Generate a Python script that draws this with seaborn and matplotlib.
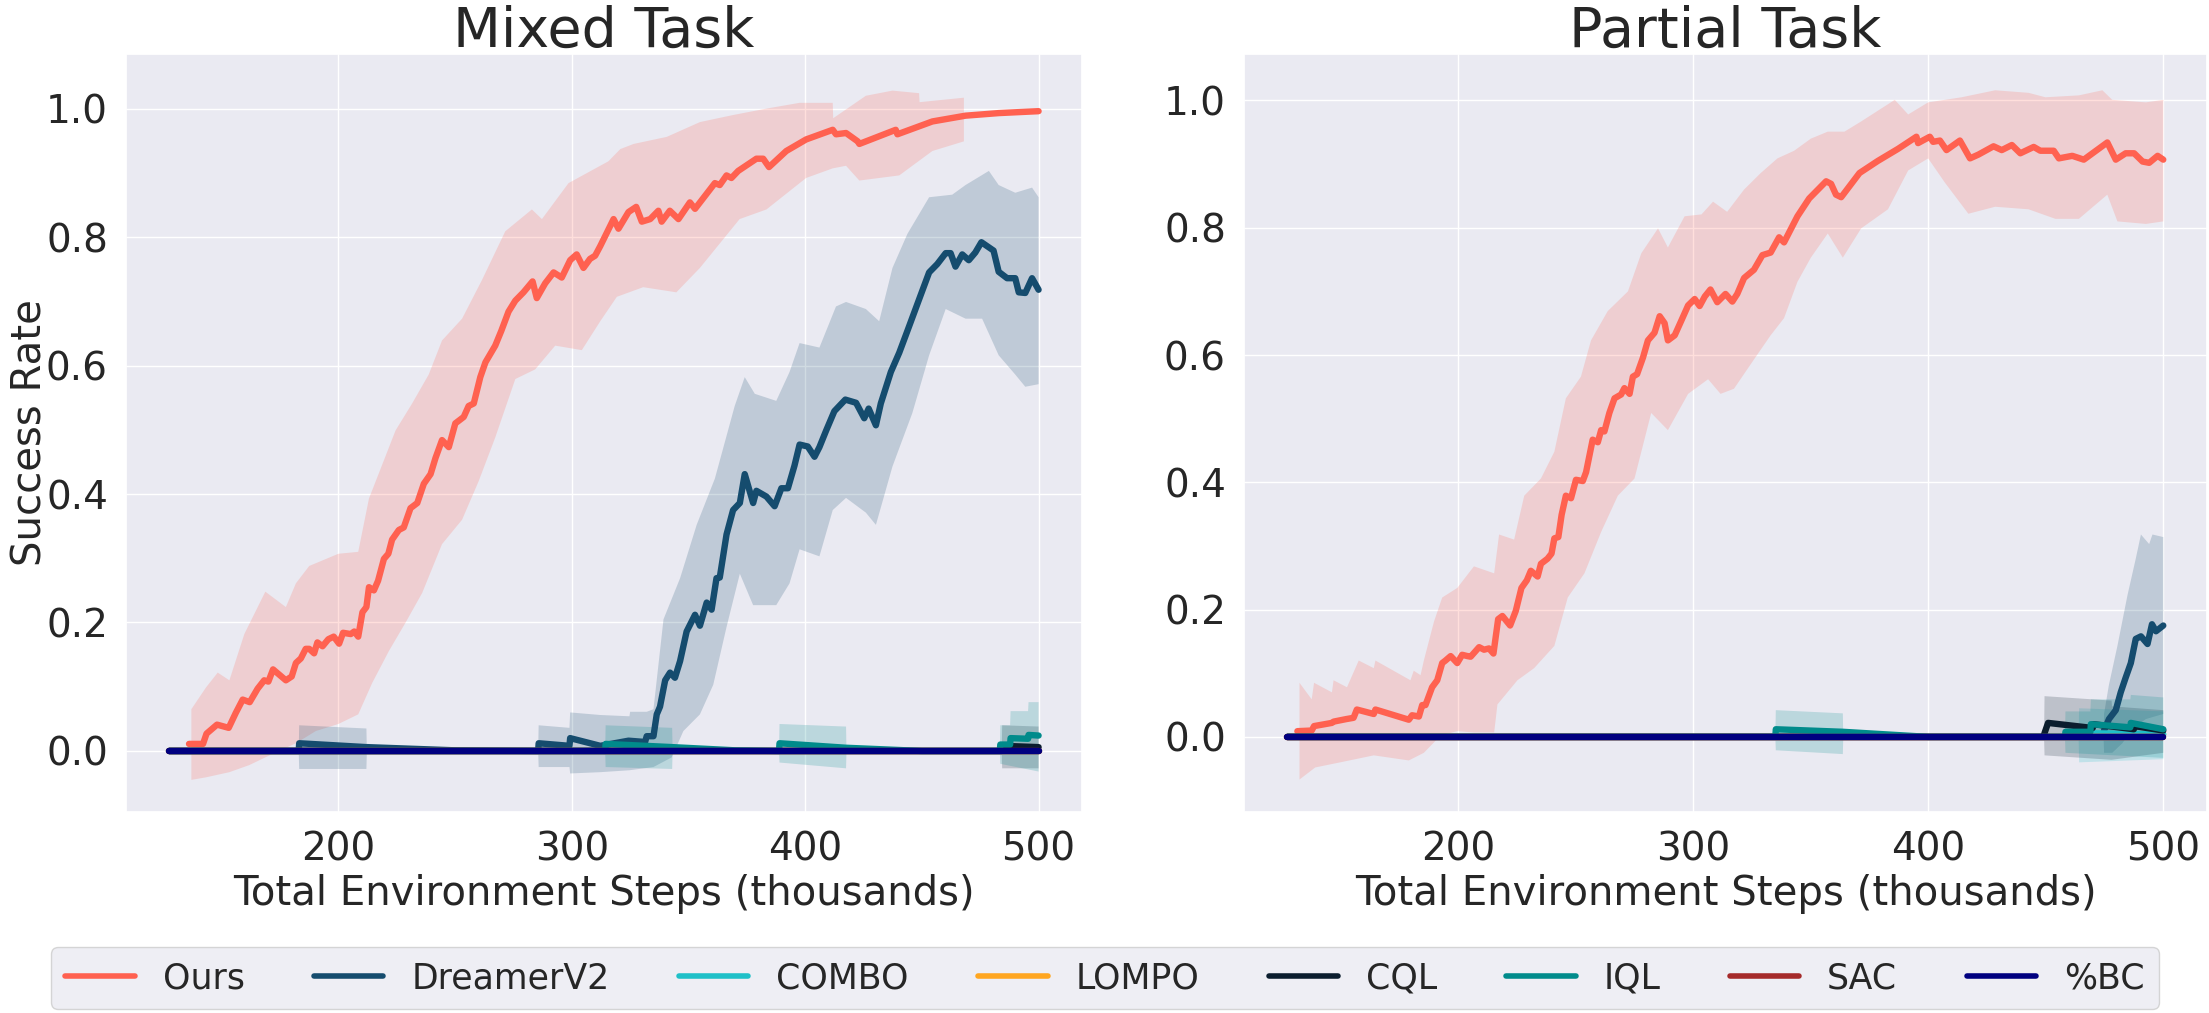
import numpy as np
import pandas as pd
import seaborn as sns
import matplotlib.pyplot as plt
from matplotlib.lines import Line2D

methods = ['Ours', 'DreamerV2', 'COMBO', 'LOMPO', 'CQL', 'IQL', 'SAC', '%BC']
colors = ['#ff6150', '#154c6e', '#1fc0c8', '#ffa620', '#0b1d2e', '#008b8b', '#a52a2a', '#000080']
tasks = ['Mixed Task', 'Partial Task']

flat = [(127.5, 0.0), (500, 0.0)]

# ---------------- Mixed task ----------------
ours_mixed = [(136, 0.011), (142, 0.011), (143.5, 0.027), (148, 0.041), (153, 0.036), (156, 0.059),
              (159, 0.08), (162, 0.076), (165.4, 0.097), (168.2, 0.11), (170, 0.108), (172, 0.127),
              (177.5, 0.11), (180, 0.116), (181.8, 0.137), (183.9, 0.144), (186, 0.159), (187.5, 0.159),
              (189.6, 0.152), (191, 0.169), (193.2, 0.163), (195.7, 0.174), (198, 0.178), (200.3, 0.167),
              (202, 0.184), (205.3, 0.182), (206.8, 0.186), (208.5, 0.178), (210.3, 0.216), (212, 0.224),
              (213.1, 0.255), (215.2, 0.25), (217, 0.265), (219.5, 0.299), (221.4, 0.307), (223, 0.329),
              (225.9, 0.344), (228, 0.348), (230.9, 0.378), (233.8, 0.386), (236.6, 0.416), (239.5, 0.431),
              (241.6, 0.456), (244.4, 0.484), (247.3, 0.473), (250.1, 0.51), (253.7, 0.52), (255.8, 0.537),
              (258, 0.541), (260.8, 0.582), (263, 0.605), (267.2, 0.631), (269.8, 0.654), (272.9, 0.684),
              (275.8, 0.701), (279.3, 0.714), (283.2, 0.731), (285, 0.705), (288.6, 0.728), (292.2, 0.745),
              (295.7, 0.737), (299.3, 0.764), (302.1, 0.773), (305, 0.752), (307.8, 0.766), (310, 0.771),
              (312.2, 0.786), (317.9, 0.828), (320, 0.813), (324.3, 0.839), (327.6, 0.847), (330, 0.824),
              (333.6, 0.828), (337.1, 0.841), (338.5, 0.824), (342, 0.841), (345.7, 0.828), (350.6, 0.854),
              (352.8, 0.844), (361.3, 0.884), (363.4, 0.881), (366.3, 0.896), (368.4, 0.892), (371.3, 0.903),
              (379.1, 0.922), (382, 0.922), (384.5, 0.909), (391.9, 0.934), (400.4, 0.952), (411.8, 0.967),
              (413.2, 0.96), (417.5, 0.962), (422.5, 0.949), (423.2, 0.945), (438.8, 0.967), (439.5, 0.96),
              (454.5, 0.98), (468.7, 0.989), (482.9, 0.993), (500, 0.996)]
ours_mixed_hi = [(137, 0.065), (143.3, 0.099), (148.3, 0.122), (153.3, 0.11), (159.7, 0.182), (168.7, 0.248),
                 (177.5, 0.224), (181.8, 0.261), (187.5, 0.288), (200, 0.307), (208.5, 0.31), (213.1, 0.393),
                 (224.5, 0.499), (231.6, 0.541), (238.7, 0.586), (244.4, 0.639), (253, 0.673), (261.5, 0.733),
                 (271.5, 0.809), (282.9, 0.843), (287.2, 0.828), (298.6, 0.884), (315.7, 0.918), (320.8, 0.937),
                 (326.5, 0.945), (340.7, 0.956), (354.9, 0.979), (369.1, 0.99), (383.4, 1.0), (397.6, 1.009),
                 (411.8, 1.009), (412, 0.985), (426, 1.02), (437.4, 1.028), (448.8, 1.024), (449, 1.01),
                 (468, 1.017)]
ours_mixed_lo = [(137, -0.045), (143.3, -0.041), (153.3, -0.033), (161.8, -0.022), (170.4, -0.007),
                 (181.8, 0.012), (190.3, 0.031), (200, 0.042), (208.5, 0.057), (214.5, 0.106), (221.7, 0.156),
                 (228.8, 0.2), (235.9, 0.246), (244.4, 0.322), (253, 0.36), (260.1, 0.42), (267.2, 0.488),
                 (275.8, 0.579), (284.3, 0.594), (292.9, 0.631), (304.3, 0.624), (312.2, 0.669), (319.3, 0.707),
                 (330.6, 0.722), (344.8, 0.714), (354.9, 0.752), (363.4, 0.79), (371.9, 0.828), (383.4, 0.843),
                 (400.4, 0.892), (411.8, 0.907), (417.5, 0.911), (423.2, 0.888), (440.3, 0.896), (454.5, 0.934),
                 (468, 0.949)]

dreamer_mixed = [(127.5, 0), (183, 0), (183.2, 0.012), (212, 0.006), (250, 0.001), (285.6, 0.0), (285.8, 0.012),
                 (299, 0.008), (299.3, 0.02), (312.2, 0.008), (324.3, 0.016), (331.4, 0.014), (332.1, 0.023),
                 (335, 0.023), (336.4, 0.057), (337.8, 0.069), (340, 0.11), (342.1, 0.122), (344.2, 0.114),
                 (346.4, 0.14), (349.2, 0.186), (352.8, 0.212), (354.9, 0.195), (357.8, 0.231), (359.9, 0.22),
                 (362, 0.269), (363.4, 0.27), (366.3, 0.337), (369.1, 0.375), (372, 0.386), (374.1, 0.431),
                 (377.7, 0.386), (379.1, 0.405), (383.4, 0.396), (386.9, 0.381), (389.8, 0.409), (392.6, 0.409),
                 (395.4, 0.444), (397.6, 0.477), (401.1, 0.474), (404, 0.458), (406.1, 0.473), (409, 0.499),
                 (412.5, 0.529), (417.2, 0.547), (421.8, 0.542), (425.3, 0.518), (427.2, 0.533), (430.3, 0.507),
                 (432.4, 0.541), (436.7, 0.59), (440.3, 0.62), (443.8, 0.654), (448.8, 0.703), (453.1, 0.745),
                 (456.6, 0.758), (460.2, 0.775), (462.3, 0.775), (464.4, 0.754), (467.3, 0.773), (470.1, 0.764),
                 (472.9, 0.776), (475.5, 0.792), (480.7, 0.779), (482.9, 0.746), (486.5, 0.736), (490, 0.736),
                 (491.5, 0.714), (494.3, 0.713), (497.2, 0.736), (500, 0.718)]
dreamer_mixed_hi = [(183, 0), (183.2, 0.04), (212, 0.035), (212.2, 0.0), (285.6, 0.0), (285.8, 0.04), (299, 0.036),
                    (299.3, 0.06), (312.2, 0.056), (324.7, 0.054), (325, 0.061), (332.1, 0.061), (335, 0.065),
                    (339.3, 0.205), (346.4, 0.269), (353.5, 0.352), (361.3, 0.424), (369.8, 0.537), (374.1, 0.582),
                    (378.4, 0.556), (387.6, 0.545), (393.3, 0.59), (397.6, 0.635), (406.1, 0.628), (413.2, 0.692),
                    (417.5, 0.699), (426, 0.688), (431.7, 0.669), (437.4, 0.752), (443.8, 0.805), (453.1, 0.862),
                    (463, 0.866), (468.7, 0.881), (478.7, 0.903), (482.9, 0.881), (490, 0.869), (497.2, 0.877),
                    (500, 0.862)]
dreamer_mixed_lo = [(183, 0), (183.2, -0.028), (212, -0.028), (212.2, 0.0), (285.6, 0.0), (285.8, -0.025),
                    (299, -0.025), (299.3, -0.035), (312.2, -0.033), (324.7, -0.03), (335, -0.025), (342.8, -0.01),
                    (347.8, 0.031), (354.9, 0.057), (360.6, 0.103), (366.3, 0.193), (372, 0.276), (377.7, 0.227),
                    (387.6, 0.227), (393.3, 0.261), (397.6, 0.314), (406.1, 0.303), (411.8, 0.375), (417.5, 0.394),
                    (426, 0.371), (430.3, 0.352), (437.4, 0.443), (445.9, 0.526), (453.1, 0.616), (460.2, 0.688),
                    (468.7, 0.673), (475.8, 0.673), (482.9, 0.616), (490, 0.586), (494.3, 0.567), (500, 0.571)]

cql_mixed = [(127.5, 0), (484.2, 0), (484.4, 0.008), (500, 0.006)]
cql_mixed_hi = [(484.2, 0), (484.4, 0.04), (500, 0.038)]
cql_mixed_lo = [(484.2, 0), (484.4, -0.027), (500, -0.027)]

iql_mixed = [(127.5, 0), (314.3, 0), (314.5, 0.011), (343, 0.006), (370, 0.001), (388.8, 0), (389, 0.012),
             (417.5, 0.005), (450, 0.0), (483.4, 0), (483.6, 0.01), (487.8, 0.01), (488, 0.02), (495.5, 0.019),
             (495.7, 0.025), (500, 0.024)]
iql_mixed_hi = [(314.3, 0), (314.5, 0.04), (343, 0.036), (343.2, 0.0), (388.8, 0), (389, 0.042), (417.5, 0.038),
                (417.7, 0), (483.4, 0), (483.6, 0.04), (487.8, 0.04), (488, 0.062), (495.5, 0.062),
                (495.7, 0.076), (500, 0.076)]
iql_mixed_lo = [(314.3, 0), (314.5, -0.025), (343, -0.028), (343.2, 0), (388.8, 0), (389, -0.018),
                (417.5, -0.027), (417.7, 0), (483.4, 0), (483.6, -0.02), (500, -0.032)]

# ---------------- Partial task ----------------
ours_partial = [(131.7, 0.009), (137.8, 0.01), (138.8, 0.017), (146.4, 0.022), (147.1, 0.024), (152.5, 0.028),
                (155.6, 0.03), (157, 0.043), (164.2, 0.036), (164.9, 0.043), (179.1, 0.027), (180.5, 0.034),
                (183.4, 0.032), (184.8, 0.05), (186.2, 0.05), (189, 0.078), (191.2, 0.089), (193.3, 0.116),
                (194.7, 0.12), (196.9, 0.127), (199.7, 0.116), (201.8, 0.129), (204, 0.127), (205.4, 0.126),
                (209, 0.141), (211.1, 0.137), (213.2, 0.139), (215.1, 0.131), (217.1, 0.185), (218.9, 0.19),
                (222.2, 0.175), (224.6, 0.198), (227, 0.234), (229.3, 0.246), (231, 0.261), (233.9, 0.252),
                (235.3, 0.272), (238.1, 0.28), (239.8, 0.288), (241, 0.312), (242.7, 0.314), (244.1, 0.349),
                (245.9, 0.379), (248.1, 0.375), (250.2, 0.404), (253.1, 0.402), (254.5, 0.416), (257.3, 0.467),
                (259.5, 0.463), (260.9, 0.482), (262.3, 0.48), (264.4, 0.509), (266.6, 0.532), (269.4, 0.538),
                (270.8, 0.548), (273, 0.539), (274.4, 0.566), (276.2, 0.57), (278.7, 0.596), (280.8, 0.623),
                (283.6, 0.635), (285.8, 0.661), (287.9, 0.65), (289.3, 0.623), (292.2, 0.631), (295, 0.654),
                (297.9, 0.678), (300.7, 0.688), (302.8, 0.677), (305, 0.692), (307.4, 0.703), (310.3, 0.683),
                (313.8, 0.696), (316.7, 0.684), (318.8, 0.696), (321.7, 0.721), (325.9, 0.734), (329.5, 0.757),
                (333, 0.761), (336.6, 0.785), (338.7, 0.777), (344.4, 0.818), (349.4, 0.846), (356.6, 0.873),
                (358.7, 0.869), (360.8, 0.852), (363, 0.848), (370.8, 0.886), (378.6, 0.905), (387.2, 0.924),
                (395, 0.943), (395.7, 0.933), (400.7, 0.943), (402.1, 0.935), (405, 0.937), (407.8, 0.922),
                (413.5, 0.937), (417.8, 0.909), (421.4, 0.915), (427.8, 0.928), (431.3, 0.922), (435.6, 0.93),
                (439.2, 0.917), (444.9, 0.927), (447.7, 0.921), (453.4, 0.921), (455.6, 0.909), (461.3, 0.913),
                (466.2, 0.907), (476.2, 0.934), (479.8, 0.907), (484, 0.917), (487.6, 0.917), (491.2, 0.904),
                (494, 0.902), (497.6, 0.913), (500, 0.907)]
ours_partial_hi = [(132.6, 0.085), (137.8, 0.059), (138.8, 0.085), (146.4, 0.07), (147.1, 0.089), (152.8, 0.078),
                   (157.8, 0.12), (164.2, 0.108), (164.9, 0.12), (179.8, 0.089), (181.2, 0.104), (184.1, 0.097),
                   (185.5, 0.12), (189.8, 0.181), (193.3, 0.219), (199.7, 0.234), (206.8, 0.268), (215.4, 0.257),
                   (217.5, 0.318), (223.9, 0.31), (228.2, 0.379), (235.3, 0.406), (241, 0.448), (245.9, 0.532),
                   (252.3, 0.566), (256.6, 0.623), (263.7, 0.669), (272.3, 0.7), (278, 0.76), (285.1, 0.799),
                   (289.3, 0.769), (296.4, 0.818), (303.6, 0.821), (308.5, 0.841), (314.5, 0.825), (321.7, 0.86),
                   (328.8, 0.886), (335.9, 0.909), (343, 0.921), (350.1, 0.94), (357.3, 0.951), (364.4, 0.951),
                   (371.5, 0.967), (385.8, 1.001), (391.5, 0.978), (400, 0.997), (414.2, 1.005), (428.5, 1.016),
                   (442.7, 1.012), (449.9, 1.005), (464.1, 1.008), (474.1, 1.016), (478.3, 1.001), (492.6, 0.997),
                   (500, 1.001)]
ours_partial_lo = [(132.6, -0.067), (139.3, -0.048), (149.9, -0.04), (164.2, -0.029), (179.1, -0.037),
                   (185.5, -0.025), (192.6, 0.002), (199.7, 0.009), (206.8, 0.007), (215.4, 0.007), (216.8, 0.051),
                   (225.3, 0.089), (232.4, 0.108), (241, 0.143), (246.7, 0.219), (253.8, 0.257), (260.9, 0.322),
                   (268, 0.379), (275.1, 0.406), (282.2, 0.509), (289.3, 0.482), (297.9, 0.539), (306.4, 0.562),
                   (311.7, 0.539), (317.4, 0.547), (325.9, 0.593), (333, 0.631), (338.7, 0.658), (344.4, 0.715),
                   (350.1, 0.753), (357.3, 0.791), (363.7, 0.753), (371.5, 0.799), (382.9, 0.829), (391.5, 0.89),
                   (400, 0.909), (407.1, 0.871), (417.1, 0.822), (428.5, 0.833), (442.7, 0.829), (454.1, 0.814),
                   (464.1, 0.814), (476.2, 0.852), (480.5, 0.81), (492.6, 0.806), (500, 0.81)]

dreamer_partial = [(127.5, 0), (474.6, 0), (474.8, 0.01), (476.9, 0.028), (479.8, 0.042), (481.9, 0.07),
                   (484, 0.093), (486.2, 0.116), (488.3, 0.154), (490.5, 0.158), (493.3, 0.146), (495.2, 0.177),
                   (496.9, 0.166), (500, 0.175)]
dreamer_partial_hi = [(474.6, 0), (474.8, 0.036), (476.9, 0.082), (480.5, 0.143), (484.8, 0.223), (488.3, 0.28),
                      (490.5, 0.318), (494, 0.303), (495.4, 0.318), (500, 0.314)]
dreamer_partial_lo = [(474.6, 0), (474.8, -0.025), (478.3, -0.025), (482.6, -0.01), (486.9, 0.013),
                      (492.6, 0.028), (500, 0.036)]

combo_partial = [(127.5, 0), (464, 0), (464.2, 0.006), (500, 0.004)]
combo_partial_hi = [(464, 0), (464.2, 0.045), (500, 0.04)]
combo_partial_lo = [(464, 0), (464.2, -0.04), (500, -0.035)]

cql_partial = [(127.5, 0), (449.3, 0), (449.5, 0.006), (451, 0.022), (470, 0.014), (470.2, 0.02),
               (487.5, 0.012), (487.7, 0.017), (500, 0.01)]
cql_partial_hi = [(449.3, 0), (449.5, 0.064), (478, 0.057), (478.2, 0.048), (500, 0.042)]
cql_partial_lo = [(449.3, 0), (449.5, -0.029), (478, -0.036), (500, -0.025)]

iql_partial = [(127.5, 0), (335, 0), (335.2, 0.012), (363.7, 0.008), (400, 0.0), (458.2, 0), (458.4, 0.008),
               (469, 0.008), (469.2, 0.02), (486, 0.015), (486.2, 0.022), (500, 0.012)]
iql_partial_hi = [(335, 0), (335.2, 0.042), (363.7, 0.037), (363.9, 0), (458.2, 0), (458.4, 0.04), (469, 0.04),
                  (469.2, 0.059), (486, 0.059), (486.2, 0.066), (500, 0.062)]
iql_partial_lo = [(335, 0), (335.2, -0.021), (363.7, -0.027), (363.9, 0), (458.2, 0), (458.4, -0.025),
                  (500, -0.033)]

curves = {
    'Mixed Task': {'Ours': ours_mixed, 'DreamerV2': dreamer_mixed, 'COMBO': flat, 'LOMPO': flat,
                   'CQL': cql_mixed, 'IQL': iql_mixed, 'SAC': flat, '%BC': flat},
    'Partial Task': {'Ours': ours_partial, 'DreamerV2': dreamer_partial, 'COMBO': combo_partial, 'LOMPO': flat,
                     'CQL': cql_partial, 'IQL': iql_partial, 'SAC': flat, '%BC': flat},
}
bands = {
    'Mixed Task': {'Ours': (ours_mixed_hi, ours_mixed_lo), 'DreamerV2': (dreamer_mixed_hi, dreamer_mixed_lo),
                   'CQL': (cql_mixed_hi, cql_mixed_lo), 'IQL': (iql_mixed_hi, iql_mixed_lo)},
    'Partial Task': {'Ours': (ours_partial_hi, ours_partial_lo),
                     'DreamerV2': (dreamer_partial_hi, dreamer_partial_lo),
                     'COMBO': (combo_partial_hi, combo_partial_lo),
                     'CQL': (cql_partial_hi, cql_partial_lo), 'IQL': (iql_partial_hi, iql_partial_lo)},
}
ylims = {'Mixed Task': (-0.095, 1.085), 'Partial Task': (-0.118, 1.073)}

rows = []
for t in tasks:
    for m in methods:
        for x, y in curves[t][m]:
            rows.append({'task': t, 'method': m, 'x': x, 'y': y})
df = pd.DataFrame(rows)

sns.set_theme(style='darkgrid')
plt.rcParams['font.family'] = ['DejaVu Sans']

fig = plt.figure(figsize=(22.09, 10.13), dpi=100)
ax1 = fig.add_axes([126 / 2209, 1 - 812 / 1013, 956 / 2209, 758 / 1013])
ax2 = fig.add_axes([1244 / 2209, 1 - 812 / 1013, 963 / 2209, 758 / 1013])
pal = dict(zip(methods, colors))

for ax, t in zip([ax1, ax2], tasks):
    for m in methods:
        if m in bands[t]:
            hi, lo = bands[t][m]
            px = [p[0] for p in hi] + [p[0] for p in lo[::-1]]
            py = [p[1] for p in hi] + [p[1] for p in lo[::-1]]
            ax.fill(px, py, color=pal[m], alpha=0.2, lw=0, zorder=1)
    sns.lineplot(data=df[df.task == t], x='x', y='y', hue='method', hue_order=methods,
                 palette=pal, linewidth=4.6, estimator=None, sort=False, legend=False, ax=ax)
    ax.set_xlim(109, 518.6)
    ax.set_ylim(*ylims[t])
    ax.set_title(t, fontsize=40, pad=5)
    ax.set_xlabel('Total Environment Steps (thousands)', fontsize=29)
    ax.set_ylabel('')
    ax.tick_params(labelsize=28, pad=7)

ax1.set_ylabel('Success Rate', fontsize=29)
ax1.yaxis.set_label_coords(-0.079, 0.5)

handles = [Line2D([0], [0], color=c, lw=4) for c in colors]
fig.legend(handles, methods, loc='center', bbox_to_anchor=(1105 / 2209, 1 - 978 / 1013),
           ncol=8, fontsize=25, frameon=True)

fig.savefig('out.png', dpi=100)
